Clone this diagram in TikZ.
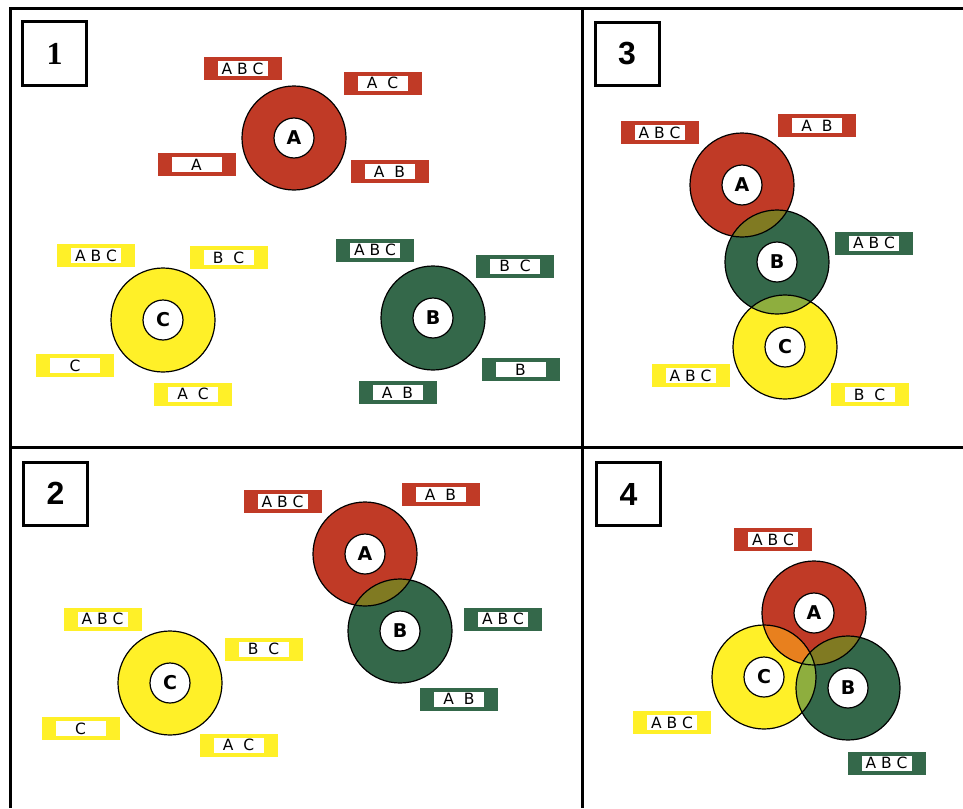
\documentclass[tikz,border=0pt]{standalone}
\usepackage{fontspec}
\setmainfont{DejaVu Sans}
\newfontfamily\numfont{Liberation Sans}
\newfontfamily\onefont{Liberation Serif}
\usepackage{tikz}

\definecolor{ringred}{RGB}{192,58,38}
\definecolor{ringgreen}{RGB}{52,104,74}
\definecolor{ringyellow}{RGB}{255,240,40}
\definecolor{mixAB}{RGB}{128,122,34}
\definecolor{mixBC}{RGB}{142,174,62}
\definecolor{mixAC}{RGB}{232,128,30}

\begin{document}
\begin{tikzpicture}[x=1pt, y=-1pt,
  tag/.style={fill=#1, minimum width=78, minimum height=23, inner sep=0,
    font=\fontsize{15.5}{15.5}\selectfont,
    path picture={\fill[white] ([xshift=14pt,yshift=4pt]path picture bounding box.south west)
      rectangle ([xshift=-14pt,yshift=-4pt]path picture bounding box.north east);}},
  ring/.style={circle, fill=#1, minimum size=104, inner sep=0},
  hole/.style={circle, draw, line width=1.2, fill=white, minimum size=40, inner sep=0,
    font=\bfseries\fontsize{19}{19}\selectfont},
  numbox/.style={draw, line width=3, minimum width=64, minimum height=63, inner sep=0,
    font=\numfont\bfseries\fontsize{32}{32}\selectfont}]
\useasboundingbox (0,0) rectangle (963,808);

% frame
\draw[line width=3] (10,808) -- (10,9) -- (963,9);
\draw[line width=3] (582,9) -- (582,808);
\draw[line width=3] (10,447) -- (963,447);

\node[numbox, font=\onefont\bfseries\fontsize{32}{32}\selectfont] (n1) at (54.5,53.5) {1};
\node[numbox] (n3) at (627,54) {3};
\node[numbox] (n2) at (55.5,493.5) {2};
\node[numbox] (n4) at (628.5,494) {4};

% rings
\node[ring=ringred] (a1) at (294,138) {};
\node[ring=ringyellow] (c1) at (163,320) {};
\node[ring=ringgreen] (b1) at (433,318) {};

\node[ring=ringred] (a3) at (742,185) {};
\node[ring=ringgreen] (b3) at (777,262) {};
\node[ring=ringyellow] (c3) at (785,347) {};

\node[ring=ringred] (a2) at (365,554) {};
\node[ring=ringgreen] (b2) at (400,631) {};
\node[ring=ringyellow] (c2) at (170,683) {};

\node[ring=ringred] (a4) at (814,613) {};
\node[ring=ringyellow] (c4) at (764,677) {};
\node[ring=ringgreen] (b4) at (848,688) {};

% overlaps
\begin{scope}
  \clip (a3.center) circle (52pt);
  \fill[mixAB] (b3.center) circle (52pt);
\end{scope}
\begin{scope}
  \clip (b3.center) circle (52pt);
  \fill[mixBC] (c3.center) circle (52pt);
\end{scope}
\begin{scope}
  \clip (a2.center) circle (52pt);
  \fill[mixAB] (b2.center) circle (52pt);
\end{scope}
\begin{scope}
  \clip (a4.center) circle (52pt);
  \fill[mixAC] (c4.center) circle (52pt);
\end{scope}
\begin{scope}
  \clip (a4.center) circle (52pt);
  \fill[mixAB] (b4.center) circle (52pt);
\end{scope}
\begin{scope}
  \clip (b4.center) circle (52pt);
  \fill[mixBC] (c4.center) circle (52pt);
\end{scope}

\foreach \n in {a1,b1,c1,a2,b2,c2,a3,b3,c3,a4,b4,c4}
  \draw[line width=1.2] (\n.center) circle (52pt);

% centres
\foreach \n/\t in {a1/A,b1/B,c1/C,a2/A,b2/B,c2/C,a3/A,b3/B,c3/C,a4/A,b4/B,c4/C}
  \node[hole] (\n h) at (\n) {\t};

% panel 1 labels
\node[tag=ringred] (a1abc) at (242.5,68.5) {A B C};
\node[tag=ringred] (a1ac) at (382.5,83) {A\ \ C};
\node[tag=ringred] (a1a) at (196.5,164.5) {A};
\node[tag=ringred] (a1ab) at (389.5,171.5) {A\ \ B};
\node[tag=ringyellow] (c1abc) at (96,255.5) {A B C};
\node[tag=ringyellow] (c1bc) at (228.5,257.5) {B\ \ C};
\node[tag=ringyellow] (c1c) at (75,365.5) {C};
\node[tag=ringyellow] (c1ac) at (193,394) {A\ \ C};
\node[tag=ringgreen] (b1abc) at (375,250) {A B C};
\node[tag=ringgreen] (b1bc) at (515,266) {B\ \ C};
\node[tag=ringgreen] (b1b) at (520.5,369.5) {B};
\node[tag=ringgreen] (b1ab) at (397.5,392.5) {A\ \ B};

% panel 3 labels
\node[tag=ringred] (a3abc) at (659.5,132.5) {A B C};
\node[tag=ringred] (a3ab) at (817,125.5) {A\ \ B};
\node[tag=ringgreen] (b3abc) at (874,243) {A B C};
\node[tag=ringyellow] (c3abc) at (690.5,375.5) {A B C};
\node[tag=ringyellow] (c3bc) at (869.5,394.5) {B\ \ C};

% panel 2 labels
\node[tag=ringred] (a2abc) at (282.5,501.5) {A B C};
\node[tag=ringred] (a2ab) at (440.5,494.5) {A\ \ B};
\node[tag=ringgreen] (b2abc) at (503,619) {A B C};
\node[tag=ringgreen] (b2ab) at (459,699) {A\ \ B};
\node[tag=ringyellow] (c2abc) at (102.5,619) {A B C};
\node[tag=ringyellow] (c2bc) at (263.5,649) {B\ \ C};
\node[tag=ringyellow] (c2c) at (80.5,728.5) {C};
\node[tag=ringyellow] (c2ac) at (238.5,745) {A\ \ C};

% panel 4 labels
\node[tag=ringred] (a4abc) at (773,539.5) {A B C};
\node[tag=ringyellow] (c4abc) at (672,722.5) {A B C};
\node[tag=ringgreen] (b4abc) at (886.5,763) {A B C};
\end{tikzpicture}
\end{document}
